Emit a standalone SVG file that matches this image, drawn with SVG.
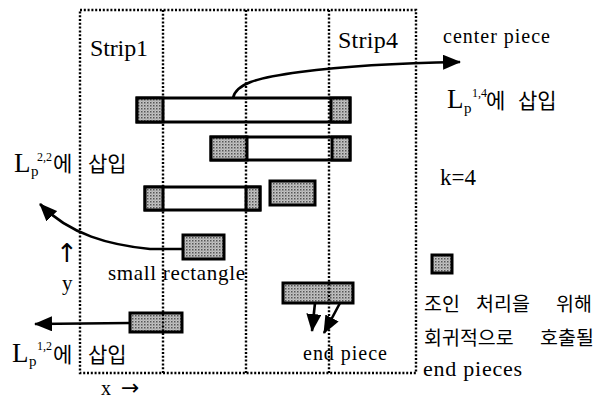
<svg xmlns="http://www.w3.org/2000/svg" width="606" height="401" viewBox="0 0 606 401">
<style>
.dot{fill:none;stroke:#000;stroke-width:2.4;stroke-dasharray:2 1.8}
.box{fill:#fff;stroke:#000;stroke-width:3}
.gray{fill:url(#ht);stroke:#000;stroke-width:3}
.con{fill:none;stroke:#000;stroke-width:2.6}
.t{font-family:"Liberation Serif",serif;fill:#000}
.k{font-family:"Noto Sans CJK KR","Noto Sans",sans-serif;fill:#000}
.s{font-family:"DejaVu Sans",sans-serif;fill:#000}
</style>
<defs>
<pattern id="ht" width="3" height="3" patternUnits="userSpaceOnUse">
<rect width="3" height="3" fill="#c4c4c4"/>
<rect width="1.5" height="1.5" fill="#555"/>
<rect x="1.5" y="1.5" width="1" height="1" fill="#8a8a8a"/>
</pattern>
<marker id="ah" markerUnits="userSpaceOnUse" markerWidth="18" markerHeight="15" refX="17" refY="7.5" orient="auto">
<path d="M0,0 L18,7.5 L0,15 z" fill="#000"/>
</marker>
</defs>

<g id="pieces">
<g id="row1">
<rect class="box" x="137" y="98" width="213" height="24"/>
<rect class="gray" x="137" y="98" width="26" height="24"/>
<rect class="gray" x="331" y="98" width="19" height="24"/>
</g>
<g id="row2">
<rect class="box" x="211" y="137" width="139" height="23"/>
<rect class="gray" x="211" y="137" width="36" height="23"/>
<rect class="gray" x="332" y="137" width="18" height="23"/>
</g>
<g id="row3">
<rect class="box" x="145" y="187" width="115" height="23"/>
<rect class="gray" x="145" y="187" width="18" height="23"/>
<rect class="gray" x="246" y="187" width="14" height="23"/>
</g>
<g id="piece4"><rect class="gray" x="270" y="181" width="45" height="24"/></g>
<g id="small-rect"><rect class="gray" x="183" y="235" width="41" height="24"/></g>
<g id="bottom-rect"><rect class="gray" x="130" y="313" width="52" height="19"/></g>
<g id="end-piece"><rect class="gray" x="283" y="283" width="70" height="20"/></g>
<g id="legend"><rect class="gray" x="432" y="255" width="20" height="18"/></g>
</g>

<g id="grid">
<rect class="dot" x="80" y="10" width="336" height="363"/>
<line class="dot" x1="163" y1="10" x2="163" y2="373"/>
<line class="dot" x1="246" y1="10" x2="246" y2="373"/>
<line class="dot" x1="329" y1="10" x2="329" y2="373"/>
</g>

<g id="connectors">
<path class="con" d="M233,98 C236,84 255,78 300,72 S400,63 460,62" marker-end="url(#ah)"/>
<path class="con" d="M183,249 L150,249 C110,245 70,235 40,204" marker-end="url(#ah)"/>
<path class="con" d="M130,323 L35,324" marker-end="url(#ah)"/>
<path class="con" d="M315,303 L312,331" marker-end="url(#ah)"/>
<path class="con" d="M340,303 L324,333" marker-end="url(#ah)"/>
</g>

<g id="labels">
<text class="t" x="90" y="56" font-size="24" textLength="58">Strip1</text>
<text class="t" x="338" y="48" font-size="24" textLength="60">Strip4</text>
<text class="t" x="443" y="43" font-size="20" textLength="107">center piece</text>
<text x="447" y="108"><tspan class="t" font-size="27">L</tspan><tspan class="t" x="464" y="113" font-size="15">p</tspan><tspan class="t" x="472" y="97" font-size="12">1,4</tspan><tspan class="k" x="486" y="108" font-size="21">에</tspan><tspan class="k" x="518" y="108" font-size="21">삽입</tspan></text>
<text class="t" x="440" y="185" font-size="23">k=4</text>
<text x="14" y="172"><tspan class="t" font-size="27">L</tspan><tspan class="t" x="31" y="176" font-size="15">p</tspan><tspan class="t" x="37" y="161" font-size="12">2,2</tspan><tspan class="k" x="53" y="171" font-size="21">에</tspan><tspan class="k" x="88" y="171" font-size="21">삽입</tspan></text>
<text class="t" x="108" y="280" font-size="21" textLength="137">small rectangle</text>
<text class="s" x="56" y="262" font-size="26">↑</text>
<text class="t" x="62" y="290" font-size="21">y</text>
<text x="12" y="362"><tspan class="t" font-size="27">L</tspan><tspan class="t" x="29" y="366" font-size="15">p</tspan><tspan class="t" x="37" y="350" font-size="12">1,2</tspan><tspan class="k" x="53" y="362" font-size="21">에</tspan><tspan class="k" x="88" y="362" font-size="21">삽입</tspan></text>
<text class="t" x="101" y="395" font-size="20">x</text>
<text class="s" x="121" y="395" font-size="22">→</text>
<text class="t" x="303" y="360" font-size="20" textLength="84">end piece</text>
<text class="k" y="311" font-size="19.5"><tspan x="424">조인</tspan><tspan x="476">처리을</tspan><tspan x="556">위해</tspan></text>
<text class="k" y="345" font-size="19.5"><tspan x="424">회귀적으로</tspan><tspan x="540">호출될</tspan></text>
<text class="t" x="423" y="376" font-size="22" textLength="99">end pieces</text>
</g>
</svg>
